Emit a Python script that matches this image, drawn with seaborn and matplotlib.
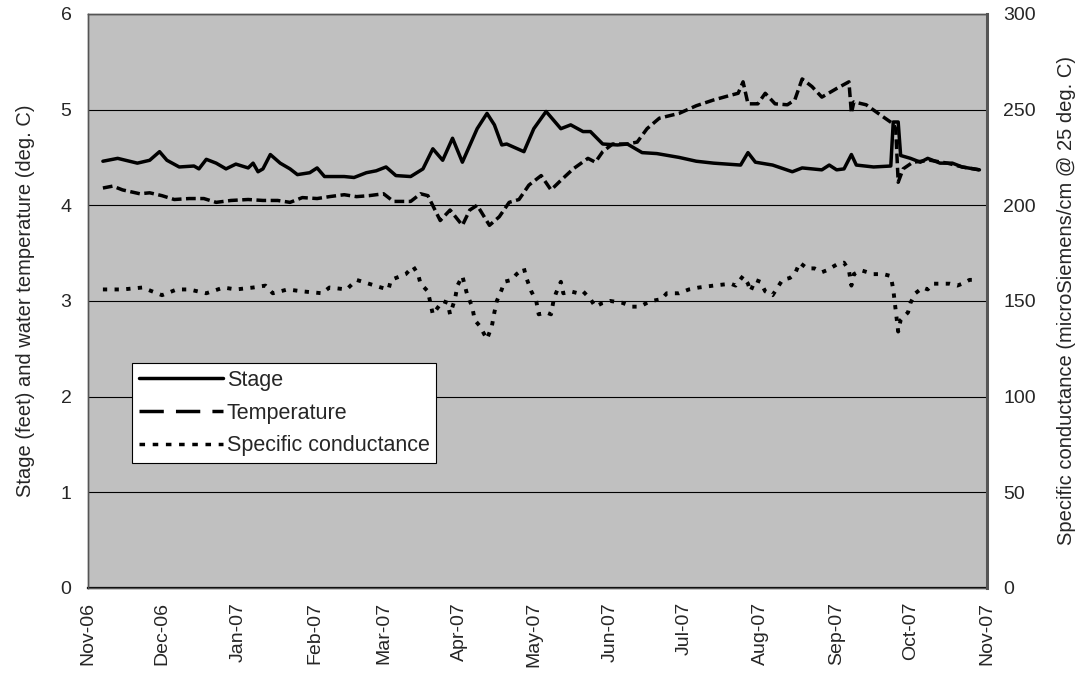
import pandas as pd
import matplotlib
matplotlib.use("Agg")
import matplotlib.pyplot as plt
import matplotlib.dates as mdates
from matplotlib.lines import Line2D
import seaborn as sns

sns.set_style("white")
plt.rcParams['font.family'] = ['Liberation Sans', 'DejaVu Sans']

start = pd.Timestamp("2006-11-01")

#Stage (feet), days since 1 Nov 2006
stage_day = [6, 12, 20, 25, 29, 32, 37, 43, 45, 48, 52, 56, 60, 65, 67, 69, 71, 74, 78, 82,
             85, 90, 93, 96, 104, 108, 113, 117, 121, 125, 131, 136, 140, 144, 148, 152, 158,
             162, 165, 168, 170, 177, 181, 186, 192, 196, 201, 204, 209, 215, 219, 225, 231,
             240, 247, 254, 265, 268, 271, 278, 286, 290, 298, 301, 304, 307, 310, 312, 319,
             326, 327, 329, 330, 334, 338, 341, 346, 351, 355, 362]
stage_ft = [4.46, 4.49, 4.44, 4.47, 4.56, 4.47, 4.40, 4.41, 4.38, 4.48, 4.44, 4.38, 4.43, 4.39,
            4.44, 4.35, 4.38, 4.53, 4.44, 4.38, 4.32, 4.34, 4.39, 4.30, 4.30, 4.29, 4.34, 4.36,
            4.40, 4.31, 4.30, 4.38, 4.59, 4.47, 4.70, 4.45, 4.80, 4.96, 4.84, 4.63, 4.64, 4.56,
            4.80, 4.98, 4.80, 4.84, 4.77, 4.77, 4.64, 4.63, 4.64, 4.55, 4.54, 4.50, 4.46, 4.44,
            4.42, 4.55, 4.45, 4.42, 4.35, 4.39, 4.37, 4.42, 4.37, 4.38, 4.53, 4.42, 4.40, 4.41,
            4.87, 4.87, 4.52, 4.49, 4.45, 4.49, 4.44, 4.44, 4.40, 4.37]

#Water temperature
temp_day = [6, 10, 14, 21, 25, 30, 35, 41, 47, 52, 58, 65, 71, 77, 82, 87, 93, 98, 104, 109,
            114, 120, 124, 131, 135, 138, 143, 147, 152, 155, 158, 163, 167, 171, 175, 179, 184,
            188, 192, 197, 203, 206, 209, 213, 219, 223, 227, 232, 240, 247, 254, 261, 264, 266,
            268, 272, 275, 279, 284, 287, 290, 294, 298, 304, 309, 310, 311, 316, 322, 327, 328,
            329, 331, 335, 342, 349, 355, 362]
temp_c = [4.18, 4.20, 4.16, 4.12, 4.13, 4.10, 4.06, 4.07, 4.07, 4.03, 4.05, 4.06, 4.05, 4.05,
          4.03, 4.08, 4.07, 4.09, 4.11, 4.09, 4.10, 4.12, 4.04, 4.04, 4.12, 4.10, 3.84, 3.95,
          3.79, 3.95, 4.00, 3.79, 3.88, 4.03, 4.06, 4.21, 4.31, 4.16, 4.26, 4.38, 4.49, 4.45,
          4.56, 4.64, 4.64, 4.66, 4.80, 4.91, 4.96, 5.04, 5.10, 5.15, 5.17, 5.29, 5.06, 5.06,
          5.17, 5.06, 5.05, 5.10, 5.32, 5.24, 5.13, 5.22, 5.29, 4.96, 5.08, 5.05, 4.94, 4.85,
          4.80, 4.24, 4.38, 4.45, 4.47, 4.44, 4.40, 4.37]

#Specific conductance (microSiemens/cm)
cond_day = [6, 14, 22, 30, 36, 41, 48, 55, 60, 67, 72, 75, 81, 87, 95, 98, 105, 109, 114, 119,
            122, 123, 129, 132, 134, 135, 138, 139, 140, 144, 146, 147, 149, 150, 152, 154, 156,
            157, 159, 162, 164, 165, 166, 168, 169, 172, 174, 177, 178, 180, 182, 183, 186, 188,
            189, 190, 192, 193, 196, 199, 201, 204, 206, 209, 212, 217, 221, 224, 227, 229, 233,
            235, 240, 244, 248, 254, 261, 263, 266, 268, 269, 271, 273, 275, 278, 280, 282, 285,
            287, 289, 292, 295, 298, 300, 304, 307, 309, 310, 311, 314, 319, 323, 326, 327, 328,
            329, 330, 333, 334, 336, 339, 341, 343, 347, 350, 353, 355, 358, 361]
cond_us = [156, 156, 157, 153, 156, 156, 154, 157, 156, 157, 158, 154, 156, 155, 154, 157, 156,
           161, 159, 157, 156, 161, 164, 168, 164, 159, 155, 149, 143, 150, 149, 143, 151, 158,
           163, 153, 147, 140, 137, 130, 137, 144, 150, 156, 160, 161, 164, 167, 162, 155, 150,
           143, 144, 143, 150, 154, 160, 154, 155, 154, 155, 151, 147, 149, 150, 149, 147, 147,
           149, 150, 151, 154, 154, 156, 157, 158, 159, 158, 163, 159, 155, 161, 160, 155, 153,
           157, 161, 162, 164, 170, 167, 167, 165, 166, 169, 170, 166, 158, 164, 166, 164, 164,
           163, 156, 145, 134, 140, 144, 149, 154, 157, 156, 159, 159, 159, 158, 159, 161, 161]

stage = pd.DataFrame({"date": start + pd.to_timedelta(stage_day, unit="D"), "value": stage_ft})
temp = pd.DataFrame({"date": start + pd.to_timedelta(temp_day, unit="D"), "value": temp_c})
cond = pd.DataFrame({"date": start + pd.to_timedelta(cond_day, unit="D"), "value": cond_us})

temp_dash = (0, (2.8, 1.3))
cond_dash = (0, (1.1, 1.9))

fig = plt.figure(figsize=(10.88, 6.77), dpi=100)
ax = fig.add_axes([0.081, 0.1315, 0.826, 0.848])
ax.set_facecolor("#c0c0c0")
ax2 = ax.twinx()

sns.lineplot(data=stage, x="date", y="value", ax=ax, color="black", linewidth=2.5)
sns.lineplot(data=temp, x="date", y="value", ax=ax, color="black", linewidth=2.5,
             linestyle=temp_dash)
sns.lineplot(data=cond, x="date", y="value", ax=ax2, color="black", linewidth=2.8,
             linestyle=cond_dash)

ax.set_xlim(pd.Timestamp("2006-11-01"), pd.Timestamp("2007-11-01"))
ax.set_ylim(0, 6)
ax2.set_ylim(0, 300)
ax.set_yticks(range(0, 7))
ax2.set_yticks(range(0, 301, 50))

ax.yaxis.grid(True, color="black", linewidth=0.8)
ax.xaxis.grid(False)
ax.set_axisbelow(True)

ax.xaxis.set_major_locator(mdates.MonthLocator())
ax.xaxis.set_major_formatter(mdates.DateFormatter("%b-%y"))
ax.tick_params(axis="x", direction="in", length=6, width=0.8, rotation=90, labelsize=14, pad=10)
ax.tick_params(axis="y", length=0, labelsize=14, pad=12)
ax2.tick_params(axis="y", length=0, labelsize=14, pad=12)

ax.set_xlabel("")
ax.set_ylabel("Stage (feet) and water temperature (deg. C)", fontsize=14.5, labelpad=18)
ax2.set_xlabel("")
ax2.set_ylabel("Specific conductance (microSiemens/cm @ 25 deg. C)", fontsize=14.5, labelpad=15)

for a in (ax, ax2):
    for s in a.spines.values():
        s.set_color("#555555")
        s.set_linewidth(1.0)
ax.spines["bottom"].set_color("black")
ax.spines["bottom"].set_linewidth(1.6)
ax2.spines["right"].set_linewidth(2.2)

#legend handles with the longer dash patterns seen in the key
handles = [
    Line2D([], [], color="black", linewidth=2.5),
    Line2D([], [], color="black", linewidth=2.5, linestyle=(0, (7, 3.5))),
    Line2D([], [], color="black", linewidth=2.5, linestyle=(0, (1.6, 2.2))),
]
labels = ["Stage", "Temperature", "Specific conductance"]
leg = ax2.legend(handles, labels, loc="lower left", bbox_to_anchor=(0.049, 0.218),
                 fontsize=15.5, frameon=True, fancybox=False, framealpha=1, edgecolor="black",
                 handlelength=3.9, handletextpad=0.2, borderpad=0.3, labelspacing=0.55,
                 borderaxespad=0)
leg.get_frame().set_linewidth(0.8)

plt.savefig("out.png", dpi=100)
